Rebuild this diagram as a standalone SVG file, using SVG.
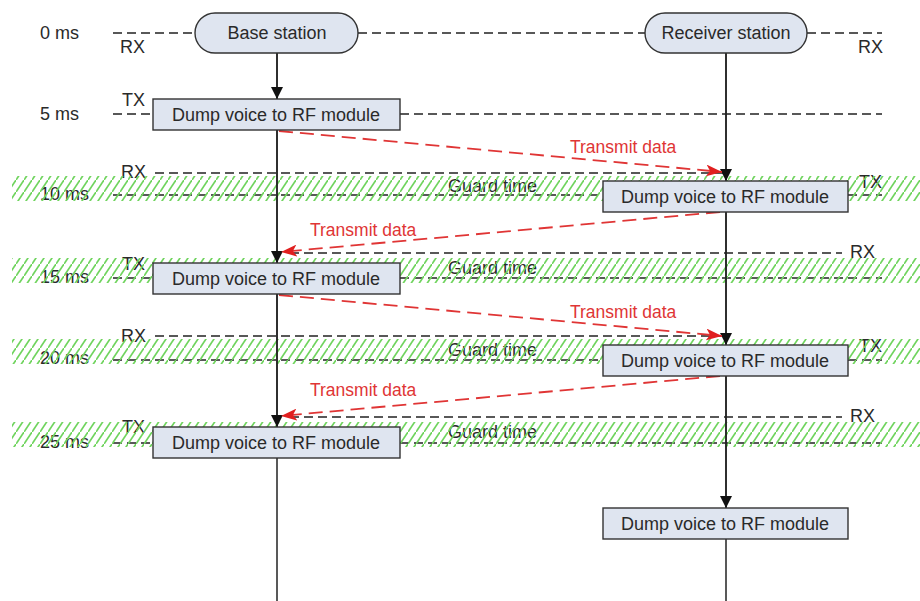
<svg xmlns="http://www.w3.org/2000/svg" width="920" height="601" viewBox="0 0 920 601">
  <style>
    text { font-family: "Liberation Sans", Arial, sans-serif; font-size: 18px; fill: #2a2a2a; }
    .red { fill: #e03535; font-size: 17.5px; }
    .mid { text-anchor: middle; }
    .dash { stroke: #222; stroke-width: 1.5; stroke-dasharray: 9 5; fill: none; }
    .rdash { stroke: #e03535; stroke-width: 1.8; stroke-dasharray: 14 7; fill: none; }
    .life { stroke: #222; stroke-width: 1.5; fill: none; }
    .node { fill: #dfe5f0; stroke: #333; stroke-width: 1.4; }
    .band { fill: url(#hatch); }
  </style>
  <defs>
    <pattern id="hatch" patternUnits="userSpaceOnUse" width="8" height="12">
      <path d="M-1,13.5 L9,-1.5" stroke="#70d45e" stroke-width="1.7"/>
    </pattern>
    <marker id="blk" viewBox="0 0 10 12" refX="12" refY="6" markerWidth="12" markerHeight="12" markerUnits="userSpaceOnUse" orient="auto">
      <path d="M0,0 L12,6 L0,12 Z" fill="#111"/>
    </marker>
    <marker id="red" viewBox="0 0 16 12" refX="16" refY="6" markerWidth="16" markerHeight="12" markerUnits="userSpaceOnUse" orient="auto">
      <path d="M0,0 L16,6 L0,12 L4,6 Z" fill="#e01f1f"/>
    </marker>
  </defs>

  <rect width="920" height="601" fill="#fff"/>

  <!-- time scale -->
  <g id="time-labels">
    <text x="40" y="39">0 ms</text>
    <text x="40" y="120">5 ms</text>
    <text x="40" y="200">10 ms</text>
    <text x="40" y="283">15 ms</text>
    <text x="40" y="364">20 ms</text>
    <text x="40" y="448">25 ms</text>
  </g>

  <!-- RX / TX slot lines -->
  <g id="slot-lines">
    <path class="dash" d="M113,33 H195 M358,33 H645 M807,33 H882"/>
    <path class="dash" d="M113,114 H153 M400,114 H882"/>
    <path class="dash" d="M155,173 H726"/>
    <path class="dash" d="M113,195 H603 M848,195 H882"/>
    <path class="dash" d="M290,253 H842"/>
    <path class="dash" d="M113,278 H153 M400,278 H882"/>
    <path class="dash" d="M155,336 H726"/>
    <path class="dash" d="M113,360 H603 M848,360 H882"/>
    <path class="dash" d="M290,417 H842"/>
    <path class="dash" d="M113,443 H153 M400,443 H882"/>
  </g>

  <g id="mode-labels">
    <text x="120" y="53">RX</text>
    <text x="858" y="53">RX</text>
    <text x="122" y="106">TX</text>
    <text x="121" y="178">RX</text>
    <text x="859" y="188">TX</text>
    <text x="122" y="270">TX</text>
    <text x="850" y="258">RX</text>
    <text x="121" y="342">RX</text>
    <text x="859" y="352">TX</text>
    <text x="122" y="433">TX</text>
    <text x="850" y="422">RX</text>
  </g>

  <g id="guard-labels">
    <text x="448" y="192">Guard time</text>
    <text x="448" y="274">Guard time</text>
    <text x="448" y="356">Guard time</text>
    <text x="448" y="438">Guard time</text>
  </g>

  <!-- guard time bands -->
  <g id="guard-bands">
    <rect class="band" x="12" y="176" width="908" height="25"/>
    <rect class="band" x="12" y="258" width="908" height="25"/>
    <rect class="band" x="12" y="339" width="908" height="25"/>
    <rect class="band" x="12" y="422" width="908" height="25"/>
  </g>

  <!-- lifelines and transmissions -->
  <g id="connectors">
    <path class="life" d="M277,53 V601"/>
    <path class="life" d="M726,53 V601"/>
    <path class="life" d="M277,53 V99" marker-end="url(#blk)"/>
    <path class="life" d="M277,130 V263" marker-end="url(#blk)"/>
    <path class="life" d="M277,294 V427" marker-end="url(#blk)"/>
    <path class="life" d="M726,53 V181" marker-end="url(#blk)"/>
    <path class="life" d="M726,212 V345" marker-end="url(#blk)"/>
    <path class="life" d="M726,376 V508" marker-end="url(#blk)"/>
    <path class="rdash" d="M279,131 L722,172" marker-end="url(#red)"/>
    <path class="rdash" d="M720,212 L281,252" marker-end="url(#red)"/>
    <path class="rdash" d="M279,295 L722,336" marker-end="url(#red)"/>
    <path class="rdash" d="M720,376 L281,416" marker-end="url(#red)"/>
    <text class="red" x="570" y="153">Transmit data</text>
    <text class="red" x="310" y="236">Transmit data</text>
    <text class="red" x="570" y="318">Transmit data</text>
    <text class="red" x="310" y="396">Transmit data</text>
  </g>

  <g id="base-station">
    <rect class="node" x="195" y="13" width="163" height="40" rx="20"/>
    <text class="mid" x="277" y="39">Base station</text>
  </g>
  <g id="receiver-station">
    <rect class="node" x="645" y="13" width="162" height="40" rx="20"/>
    <text class="mid" x="726" y="39">Receiver station</text>
  </g>

  <g id="base-dump-5ms">
    <rect class="node" x="153" y="99" width="247" height="31"/>
    <text class="mid" x="276" y="121">Dump voice to RF module</text>
  </g>
  <g id="recv-dump-10ms">
    <rect class="node" x="603" y="181" width="245" height="31"/>
    <text class="mid" x="725" y="203">Dump voice to RF module</text>
  </g>
  <g id="base-dump-15ms">
    <rect class="node" x="153" y="263" width="247" height="31"/>
    <text class="mid" x="276" y="285">Dump voice to RF module</text>
  </g>
  <g id="recv-dump-20ms">
    <rect class="node" x="603" y="345" width="245" height="31"/>
    <text class="mid" x="725" y="367">Dump voice to RF module</text>
  </g>
  <g id="base-dump-25ms">
    <rect class="node" x="153" y="427" width="247" height="31"/>
    <text class="mid" x="276" y="449">Dump voice to RF module</text>
  </g>
  <g id="recv-dump-final">
    <rect class="node" x="603" y="508" width="245" height="31"/>
    <text class="mid" x="725" y="530">Dump voice to RF module</text>
  </g>
</svg>
